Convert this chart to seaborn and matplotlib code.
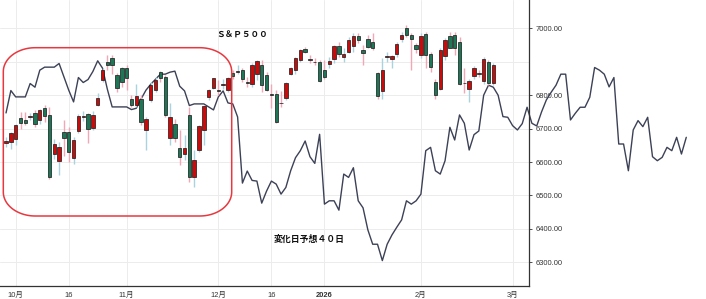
import numpy as np
import pandas as pd
import matplotlib
matplotlib.use("Agg")
import matplotlib.pyplot as plt
import seaborn as sns
from matplotlib.path import Path
from matplotlib.patches import PathPatch
from matplotlib.ticker import FuncFormatter

# ---------------- data ----------------
holidays = ["2025-11-27", "2025-12-25", "2026-01-01", "2026-01-19", "2026-02-16", "2026-04-03"]
calendar = pd.bdate_range("2025-09-29", "2026-04-22")
calendar = calendar[~calendar.isin(pd.to_datetime(holidays))]

opens = [6658, 6660, 6668, 6732, 6725, 6736, 6747, 6725, 6762, 6740,
         6625, 6603, 6690, 6690, 6613, 6693, 6736, 6743, 6703, 6772,
         6847, 6898, 6912, 6862, 6881, 6881, 6790, 6770, 6790, 6697,
         6787, 6815, 6869, 6854, 6673, 6715, 6643, 6625, 6740, 6555,
         6637, 6697, 6795, 6823, 6816, 6831, 6817, 6868, 6870, 6874,
         6840, 6835, 6865, 6891, 6862, 6805, 6805, 6778, 6793, 6865,
         6874, 6904, 6937, 6908, 6900, 6899, 6876, 6892, 6909, 6947,
         6914, 6929, 6946, 6977, 6936, 6969, 6959, 6866, 6812, 6914,
         6909, 6924, 6967, 7002, 6979, 6949, 6919, 6984, 6924, 6839,
         6820, 6916, 6976, 6979, 6959, 6837, 6820, 6857, 6867, 6844,
         6899, 6836]
closes = [6662, 6688, 6712, 6718, 6718, 6739, 6715, 6755, 6737, 6555,
          6655, 6645, 6673, 6630, 6665, 6737, 6738, 6700, 6740, 6793,
          6876, 6891, 6889, 6823, 6841, 6853, 6772, 6798, 6720, 6730,
          6832, 6847, 6851, 6740, 6735, 6673, 6615, 6643, 6555, 6605,
          6707, 6767, 6815, 6851, 6814, 6833, 6851, 6858, 6872, 6849,
          6838, 6889, 6902, 6830, 6815, 6802, 6720, 6776, 6836, 6881,
          6911, 6934, 6929, 6906, 6898, 6844, 6856, 6903, 6947, 6924,
          6924, 6966, 6977, 6966, 6926, 6944, 6942, 6797, 6876, 6916,
          6916, 6952, 6979, 6979, 6969, 6939, 6977, 6919, 6884, 6800,
          6934, 6966, 6942, 6942, 6835, 6836, 6844, 6882, 6865, 6909,
          6836, 6891]
highs = [6674, 6690, 6715, 6750, 6750, 6748, 6755, 6760, 6770, 6765,
         6668, 6660, 6725, 6705, 6675, 6745, 6752, 6748, 6752, 6808,
         6880, 6920, 6920, 6868, 6885, 6890, 6800, 6835, 6800, 6735,
         6840, 6855, 6872, 6860, 6776, 6730, 6695, 6680, 6765, 6635,
         6710, 6770, 6818, 6852, 6845, 6850, 6855, 6875, 6890, 6880,
         6855, 6895, 6905, 6905, 6870, 6835, 6815, 6812, 6840, 6885,
         6915, 6937, 6945, 6920, 6910, 6905, 6905, 6915, 6950, 6960,
         6940, 6975, 6985, 6986, 6950, 6980, 6985, 6870, 6910, 6930,
         6920, 6960, 6990, 7010, 6985, 6955, 6985, 6990, 6930, 6850,
         6940, 6970, 6990, 6990, 6975, 6880, 6850, 6888, 6875, 6915,
         6905, 6895]
lows = [6645, 6640, 6650, 6700, 6710, 6725, 6705, 6715, 6720, 6550,
        6610, 6560, 6617, 6600, 6595, 6688, 6722, 6657, 6695, 6768,
        6840, 6875, 6865, 6810, 6825, 6817, 6765, 6765, 6710, 6635,
        6780, 6810, 6840, 6735, 6650, 6660, 6590, 6605, 6540, 6525,
        6630, 6650, 6785, 6818, 6800, 6820, 6810, 6850, 6865, 6840,
        6825, 6825, 6845, 6810, 6812, 6763, 6718, 6765, 6785, 6860,
        6865, 6900, 6925, 6895, 6890, 6840, 6850, 6880, 6895, 6915,
        6900, 6925, 6930, 6955, 6889, 6940, 6935, 6790, 6790, 6900,
        6880, 6915, 6960, 6975, 6874, 6925, 6910, 6880, 6870, 6790,
        6815, 6905, 6940, 6920, 6830, 6807, 6780, 6850, 6855, 6835,
        6830, 6830]

forecast = [6747, 6814, 6795, 6795, 6795, 6835, 6824, 6875, 6884, 6884,
            6884, 6895, 6855, 6815, 6780, 6853, 6838, 6847, 6871, 6903,
            6881, 6818, 6765, 6765, 6765, 6765, 6757, 6761, 6789, 6815,
            6833, 6848, 6863, 6863, 6869, 6872, 6827, 6813, 6769, 6774,
            6774, 6774, 6765, 6756, 6795, 6813, 6777, 6774, 6735, 6537,
            6573, 6545, 6543, 6477, 6513, 6543, 6534, 6504, 6524, 6574,
            6613, 6634, 6663, 6616, 6596, 6683, 6474, 6484, 6484, 6456,
            6564, 6554, 6583, 6484, 6463, 6397, 6354, 6354, 6305, 6354,
            6382, 6405, 6427, 6484, 6474, 6484, 6504, 6634, 6644, 6574,
            6564, 6604, 6704, 6666, 6741, 6716, 6636, 6682, 6693, 6800,
            6830, 6824, 6800, 6736, 6734, 6709, 6696, 6715, 6764, 6716,
            6708, 6750, 6786, 6809, 6830, 6863, 6863, 6726, 6746, 6764,
            6764, 6794, 6883, 6875, 6863, 6825, 6853, 6654, 6654, 6574,
            6696, 6724, 6706, 6734, 6616, 6604, 6614, 6644, 6634, 6674,
            6624, 6674]

tick_dates = ["2025-10-01", "2025-10-16", "2025-11-03", "2025-12-01",
              "2025-12-16", "2026-01-02", "2026-02-02", "2026-03-02"]
tick_labels = ["10月", "16", "11月", "12月", "16", "2026", "2月", "3月"]
y_ticks = [6300, 6400, 6500, 6600, 6700, 6800, 7000]

# ---------------- style ----------------
sns.set_theme(style="whitegrid")
plt.rcParams["font.family"] = ["Liberation Sans", "Noto Sans CJK JP", "DejaVu Sans"]

fig = plt.figure(figsize=(7.06, 2.99), dpi=100)
fig.patch.set_facecolor("white")
ax = fig.add_axes([0, 13 / 299, 529 / 706, 286 / 299])
ax.set_facecolor("white")

# forecast line (extends past the axis, unclipped)
line_df = pd.DataFrame({"pos": np.arange(len(forecast)), "value": forecast})
sns.lineplot(data=line_df, x="pos", y="value", ax=ax, color="#3c4156",
             linewidth=1.0, clip_on=False, zorder=2, estimator=None)

# candles
o = np.array(opens, float)
c = np.array(closes, float)
h = np.array(highs, float)
l = np.array(lows, float)
xpos = np.arange(len(o))
up = c >= o
body_col = np.where(up, "#cc0a0a", "#1d7757")
wick_col = np.where(up, "#a9d3df", "#f3a6b5")
ax.vlines(xpos, l, h, colors=wick_col, linewidth=1.0, zorder=3)
bottom = np.minimum(o, c)
height = np.maximum(np.abs(c - o), 1.5)
ax.bar(xpos, height, bottom=bottom, width=0.7, color=body_col,
       edgecolor="#151515", linewidth=0.5, zorder=4)

# axes styling
ax.set_xlim(-1.25, 108.4)
ax.set_ylim(6229, 7085)
ax.grid(True, color="#ececec", linewidth=0.7)
ax.axhline(6900, color="#ececec", linewidth=0.7, zorder=0)
ax.set_axisbelow(True)

tick_pos = calendar.get_indexer(pd.to_datetime(tick_dates))
ax.set_xticks(tick_pos)
ax.set_xticklabels(tick_labels)
for lbl in ax.get_xticklabels():
    if lbl.get_text() == "2026":
        lbl.set_fontweight("bold")

ax.yaxis.tick_right()
ax.set_yticks(y_ticks)
ax.yaxis.set_major_formatter(FuncFormatter(lambda v, p: f"{v:.2f}"))
ax.tick_params(axis="both", which="major", labelsize=5.4, colors="#333333",
               length=2.5, width=0.6, pad=2, direction="out")
ax.set_xlabel("")
ax.set_ylabel("")

for side in ["left", "top"]:
    ax.spines[side].set_visible(False)
for side in ["right", "bottom"]:
    ax.spines[side].set_visible(True)
    ax.spines[side].set_color("#333333")
    ax.spines[side].set_linewidth(0.9)

# rounded highlight box (in axes pixel space -> axes fraction)
W, H = 529.0, 286.0
x0, x1 = 3.3, 231.7
ytop, ybot = 47.7, 216.0
rx, ry = 32.0, 24.0
yb0, yb1 = H - ybot, H - ytop
pts = []
for cx, cy, a0, a1 in [(x1 - rx, yb0 + ry, -90, 0), (x1 - rx, yb1 - ry, 0, 90),
                       (x0 + rx, yb1 - ry, 90, 180), (x0 + rx, yb0 + ry, 180, 270)]:
    t = np.radians(np.linspace(a0, a1, 30))
    pts.extend(zip((cx + rx * np.cos(t)) / W, (cy + ry * np.sin(t)) / H))
pts.append(pts[0])
box = PathPatch(Path(pts), fill=False, edgecolor="#e8383f", linewidth=1.1,
                transform=ax.transAxes, clip_on=False, zorder=5)
ax.add_patch(box)

# annotations
ax.text(242 / W, 1 - 35.5 / H, "Ｓ＆Ｐ５００", transform=ax.transAxes,
        ha="center", va="center", fontsize=6.2, fontweight="bold",
        color="#111111", family=["Noto Sans CJK JP", "DejaVu Sans"])
ax.text(309 / W, 1 - 239 / H, "変化日予想４０日", transform=ax.transAxes,
        ha="center", va="center", fontsize=6.4, fontweight="bold",
        color="#111111", family=["Noto Sans CJK JP", "DejaVu Sans"])

fig.savefig("out.png", dpi=100, facecolor="white")
